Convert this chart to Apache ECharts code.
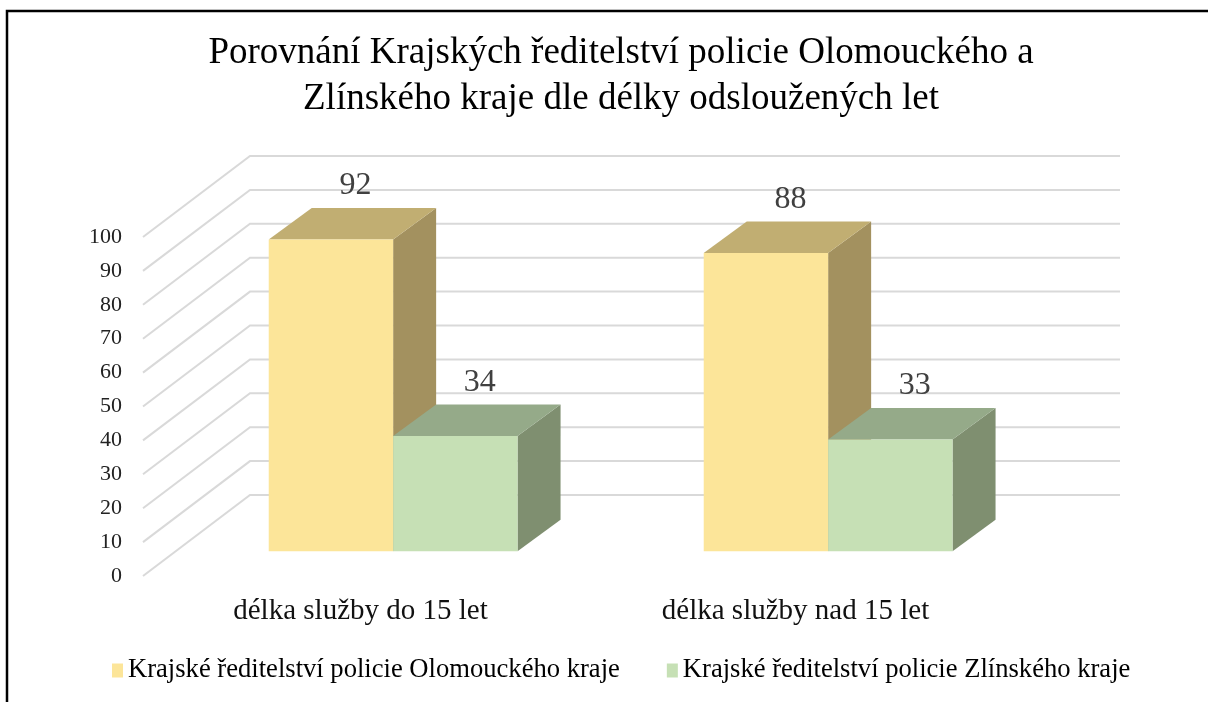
<!DOCTYPE html>
<html>
<head>
<meta charset="utf-8">
<script src="https://cdn.jsdelivr.net/npm/echarts@6/dist/echarts.min.js"></script>
<style>
    html, body { margin: 0; padding: 0; background: #fff; }
    #chart-dom { width: 1208px; height: 702px; }
</style>
</head>
<body>
<div id="chart-dom"></div>
<script>
// data
const categories = ['délka služby do 15 let', 'délka služby nad 15 let'];
const seriesNames = ['Krajské ředitelství policie Olomouckého kraje', 'Krajské ředitelství policie Zlínského kraje'];
const olomoucValues = [92, 88];
const zlinValues = [34, 33];
const yTicks = [0, 10, 20, 30, 40, 50, 60, 70, 80, 90, 100];

// 3d look: depth of the whole floor and of one bar
const FLOOR_DX = 107, FLOOR_DY = 81;
const BAR_FRONT = 0.305;
const BAR_DX = 43, BAR_DY = 31.5;
const BAR_FRAC = 0.286;

// front, top, side
const colorSets = [
    ['#fce599', '#c1ae72', '#a3915f'],
    ['#c6e0b5', '#95aa89', '#7f8f70']
];

function renderGridLine(params, api) {
    let cs = params.coordSys;
    let y = api.coord([0, api.value(1)])[1];
    return {
        type: 'polyline',
        shape: {
            points: [
                [cs.x, y],
                [cs.x + FLOOR_DX, y - FLOOR_DY],
                [cs.x + cs.width + FLOOR_DX, y - FLOOR_DY]
            ]
        },
        style: { stroke: '#d9d9d9', lineWidth: 2, fill: null }
    };
}

function makeBarRenderer(s) {
    return function (params, api) {
        let cat = api.value(0);
        let val = api.value(1);
        let base = api.coord([cat, 0]);
        let top = api.coord([cat, val]);
        let bw = api.size([1, 0])[0] * BAR_FRAC;
        let fx = BAR_FRONT * FLOOR_DX, fy = BAR_FRONT * FLOOR_DY;
        let xl = base[0] - bw + s * bw + fx;
        let xr = xl + bw;
        let yb = base[1] - fy;
        let yt = top[1] - fy;
        let c = colorSets[s];
        return {
            type: 'group',
            children: [
                {
                    type: 'polygon',
                    shape: { points: [[xr, yt], [xr + BAR_DX, yt - BAR_DY], [xr + BAR_DX, yb - BAR_DY], [xr, yb]] },
                    style: { fill: c[2] }
                },
                {
                    type: 'polygon',
                    shape: { points: [[xl, yt], [xr, yt], [xr + BAR_DX, yt - BAR_DY], [xl + BAR_DX, yt - BAR_DY]] },
                    style: { fill: c[1] }
                },
                {
                    type: 'rect',
                    shape: { x: xl, y: yt, width: bw, height: yb - yt },
                    style: { fill: c[0] }
                },
                {
                    type: 'text',
                    style: {
                        text: String(val),
                        x: (xl + xr) / 2 + BAR_DX / 2 + 3,
                        y: yt - BAR_DY - 22,
                        align: 'center',
                        verticalAlign: 'middle',
                        fill: '#404040',
                        font: '32px "Liberation Serif"'
                    }
                }
            ]
        };
    };
}

let chartDom = document.getElementById('chart-dom');
let chart = echarts.init(chartDom, null, { renderer: 'canvas' });

let option = {
    animation: false,
    backgroundColor: '#fff',
    title: {
        text: 'Porovnání Krajských ředitelství policie Olomouckého a\nZlínského kraje dle délky odsloužených let',
        left: 621,
        top: 30,
        padding: 0,
        textAlign: 'center',
        textStyle: {
            fontFamily: 'Liberation Serif',
            fontSize: 37,
            fontWeight: 'normal',
            lineHeight: 46,
            color: '#000'
        }
    },
    legend: {
        data: seriesNames,
        top: 652,
        left: 107,
        icon: 'rect',
        itemWidth: 11,
        itemHeight: 14,
        itemGap: 47,
        textStyle: {
            fontFamily: 'Liberation Serif',
            fontSize: 26.6,
            color: '#000'
        }
    },
    grid: {
        left: 143,
        right: 195,
        top: 237,
        bottom: 126
    },
    xAxis: {
        type: 'category',
        data: categories,
        axisLine: { show: false },
        axisTick: { show: false },
        axisLabel: {
            margin: 21,
            fontFamily: 'Liberation Serif',
            fontSize: 29,
            color: '#111'
        }
    },
    yAxis: {
        type: 'value',
        min: 0,
        max: 100,
        interval: 10,
        axisLine: { show: false },
        axisTick: { show: false },
        splitLine: { show: false },
        axisLabel: {
            margin: 21,
            fontFamily: 'Liberation Serif',
            fontSize: 22,
            color: '#222'
        }
    },
    graphic: [
        {
            type: 'polyline',
            shape: { points: [[7, 702], [7, 11], [1208, 11]] },
            style: { stroke: '#000', lineWidth: 2.5, fill: null }
        }
    ],
    series: [
        {
            name: 'grid',
            type: 'custom',
            silent: true,
            z: 1,
            renderItem: renderGridLine,
            data: yTicks.map(t => [0, t])
        },
        {
            name: seriesNames[0],
            type: 'custom',
            z: 2,
            itemStyle: { color: colorSets[0][0] },
            renderItem: makeBarRenderer(0),
            data: olomoucValues.map((v, i) => [i, v])
        },
        {
            name: seriesNames[1],
            type: 'custom',
            z: 3,
            itemStyle: { color: colorSets[1][0] },
            renderItem: makeBarRenderer(1),
            data: zlinValues.map((v, i) => [i, v])
        }
    ]
};

chart.setOption(option);
</script>
</body>
</html>
